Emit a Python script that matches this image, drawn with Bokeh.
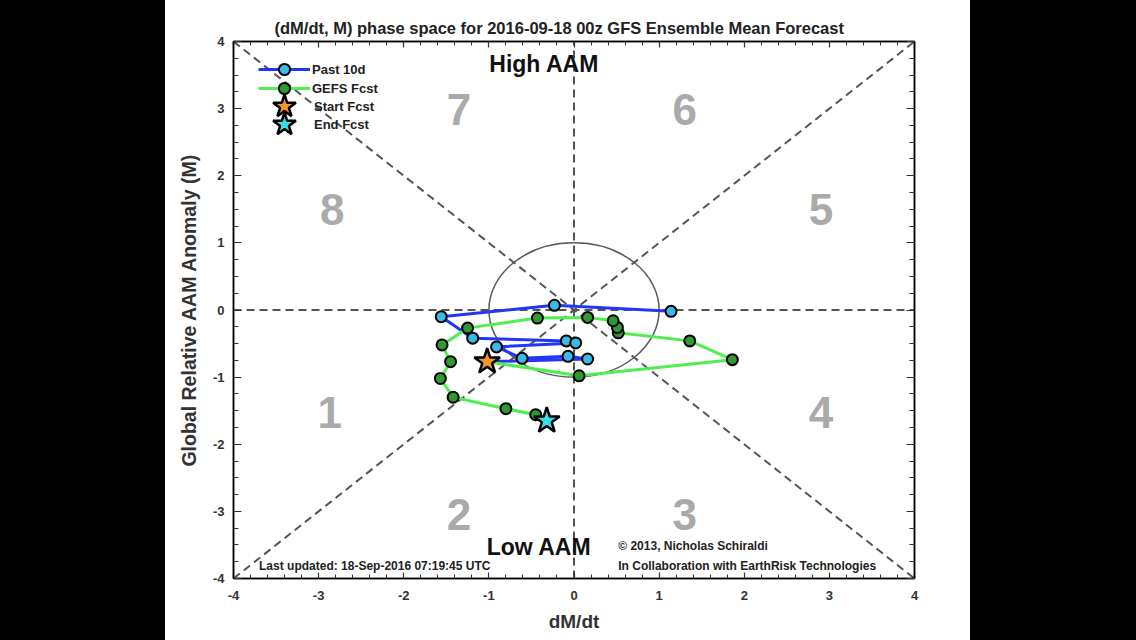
from bokeh.plotting import figure
from bokeh.models import (SingleIntervalTicker, LinearAxis, Legend, LegendItem, Div)
from bokeh.layouts import row
from bokeh.core.properties import value
from bokeh.embed import file_html
from bokeh.resources import INLINE

# ---------------- data ----------------
TITLE = "(dM/dt, M) phase space for 2016-09-18 00z GFS Ensemble Mean Forecast"
X_LABEL = "dM/dt"
Y_LABEL = "Global Relative AAM Anomaly (M)"

# Past 10 days (chronological), ends at the forecast start
past_x = [1.14, -0.23, -1.56, -1.19, -0.09, 0.02, -0.91, -0.61, -0.07, 0.16]
past_y = [-0.02, 0.07, -0.10, -0.42, -0.46, -0.49, -0.55, -0.72, -0.69, -0.73]

start_x = [-1.02]
start_y = [-0.77]
end_x = [-0.32]
end_y = [-1.65]

# GEFS forecast days (between start and end)
fcst_x = [0.06, 1.86, 1.36, 0.52, 0.51, 0.46, 0.16, -0.43, -1.25, -1.55, -1.45, -1.57, -1.42, -0.80, -0.45]
fcst_y = [-0.98, -0.74, -0.46, -0.34, -0.26, -0.16, -0.11, -0.12, -0.27, -0.52, -0.77, -1.02, -1.30, -1.47, -1.56]

phase_labels = ["1", "2", "3", "4", "5", "6", "7", "8"]
phase_x = [-2.87, -1.35, 1.30, 2.90, 2.90, 1.30, -1.35, -2.84]
phase_y = [-1.52, -3.04, -3.04, -1.52, 1.49, 2.98, 2.98, 1.49]

region_labels = ["High AAM", "Low AAM"]
region_x = [-0.35, -0.41]
region_y = [3.66, -3.53]

note_labels = ["\u00a9 2013, Nicholas Schiraldi",
               "Last updated: 18-Sep-2016 07:19:45 UTC",
               "In Collaboration with EarthRisk Technologies"]
note_x = [0.52, -3.70, 0.52]
note_y = [-3.51, -3.82, -3.82]

guide_x0 = [-4, -4, -4, 0]
guide_y0 = [-4, 4, 0, -4]
guide_x1 = [4, 4, 4, 0]
guide_y1 = [4, -4, 0, 4]

circle_x = [0]
circle_y = [0]
circle_d = [2]

axis_min, axis_max = -4, 4
tick_values = [-4, -3, -2, -1, 0, 1, 2, 3, 4]
tick_labels = ["-4", "-3", "-2", "-1", "0", "1", "2", "3", "4"]
legend_labels = ["Past 10d", "GEFS Fcst", "Start Fcst", "End Fcst"]

FONT = "Liberation Sans"

# ---------------- figure ----------------
p = figure(width=805, height=640, x_range=(axis_min, axis_max), y_range=(axis_min, axis_max),
           output_backend="svg", toolbar_location=None,
           min_border_left=68, min_border_right=56, min_border_top=41, min_border_bottom=62,
           background_fill_color="white", border_fill_color="white")
p.grid.visible = False
p.outline_line_color = "black"
p.outline_line_width = 1.5

p.title.text = TITLE
p.title.align = "left"
p.title.offset = 41
p.title.text_font = FONT
p.title.text_font_size = "16.5px"
p.title.text_font_style = "bold"
p.title.text_color = "#222222"
p.title.standoff = 9

overrides = {v: s for v, s in zip(tick_values, tick_labels)}

def style_axis(ax, major_len, minor_len, show_labels):
    ax.axis_line_color = "black"
    ax.axis_line_width = 1.5
    ax.major_tick_in = major_len
    ax.major_tick_out = 0
    ax.minor_tick_in = minor_len
    ax.minor_tick_out = 0
    ax.major_tick_line_color = "#333333"
    ax.minor_tick_line_color = "#333333"
    ax.major_tick_line_width = 1.2
    ax.minor_tick_line_width = 1.0
    ax.major_label_text_font = FONT
    ax.major_label_text_font_style = "bold"
    if show_labels:
        ax.major_label_text_font_size = "13px"
        ax.major_label_text_color = "#333333"
        ax.major_label_overrides = overrides
    else:
        ax.major_label_text_font_size = "1px"
        ax.major_label_text_color = None
        ax.major_label_standoff = 0

xb = p.xaxis[0]
xb.ticker = SingleIntervalTicker(interval=1, num_minor_ticks=5)
style_axis(xb, 6, 4, True)
xb.major_label_standoff = 12
xb.axis_label = X_LABEL
xb.axis_label_text_font = FONT
xb.axis_label_text_font_size = "19px"
xb.axis_label_text_font_style = "bold"
xb.axis_label_text_color = "#333333"
xb.axis_label_standoff = 8

yl = p.yaxis[0]
yl.ticker = SingleIntervalTicker(interval=1, num_minor_ticks=4)
style_axis(yl, 8, 5, True)
yl.major_label_standoff = 9
yl.axis_label = Y_LABEL
yl.axis_label_text_font = FONT
yl.axis_label_text_font_size = "19.5px"
yl.axis_label_text_font_style = "bold"
yl.axis_label_text_color = "#333333"
yl.axis_label_standoff = 10

xt = LinearAxis(ticker=SingleIntervalTicker(interval=1, num_minor_ticks=5))
style_axis(xt, 6, 4, False)
p.add_layout(xt, "above")
yr = LinearAxis(ticker=SingleIntervalTicker(interval=1, num_minor_ticks=4))
style_axis(yr, 8, 5, False)
p.add_layout(yr, "right")

# guides
p.segment(x0=guide_x0, y0=guide_y0, x1=guide_x1, y1=guide_y1,
          line_color="#555555", line_width=2, line_dash="8 5")
p.ellipse(x=circle_x, y=circle_y, width=circle_d, height=circle_d,
          fill_color=None, line_color="#5a5a5a", line_width=1.5)

# texts
p.text(x=phase_x, y=phase_y, text=phase_labels, text_align="center", text_baseline="middle",
       text_font=value(FONT), text_font_size="44px", text_font_style="bold", text_color="#aaaaaa")
p.text(x=region_x, y=region_y, text=region_labels, text_align="center", text_baseline="middle",
       text_font=value(FONT), text_font_size="23px", text_font_style="bold", text_color="#111111")
p.text(x=note_x, y=note_y, text=note_labels, text_align="left", text_baseline="middle",
       text_font=value(FONT), text_font_size="12px", text_font_style="bold", text_color="#222222")

# series
BLUE = "#2236f8"
BLUE_FILL = "#3cb9e6"
GREEN = "#4df04d"
GREEN_FILL = "#2f9a2f"

past_line_x = past_x + start_x
past_line_y = past_y + start_y
fcst_line_x = start_x + fcst_x + end_x
fcst_line_y = start_y + fcst_y + end_y

r_bl = p.line(past_line_x, past_line_y, line_color=BLUE, line_width=3)
r_gl = p.line(fcst_line_x, fcst_line_y, line_color=GREEN, line_width=3)
r_bm = p.scatter(past_x, past_y, marker="circle", size=11, fill_color=BLUE_FILL,
                 line_color="black", line_width=2)
r_gm = p.scatter(fcst_x, fcst_y, marker="circle", size=11, fill_color=GREEN_FILL,
                 line_color="black", line_width=2)
r_st = p.scatter(start_x, start_y, marker="star", size=27, fill_color="#f0962a",
                 line_color="black", line_width=2.5)
r_en = p.scatter(end_x, end_y, marker="star", size=27, fill_color="#35e0e8",
                 line_color="black", line_width=2.5)

# one legend per entry so each glyph keeps its own size
FRAME_BOTTOM_PAGE = 578
def make_legend(label, renderers, center_y, gw, gh, left, standoff):
    lg = Legend(items=[LegendItem(label=label, renderers=renderers)],
                location=(left, FRAME_BOTTOM_PAGE - center_y - gh / 2))
    lg.padding = 0
    lg.margin = 0
    lg.spacing = 0
    lg.glyph_width = gw
    lg.glyph_height = gh
    lg.label_height = gh
    lg.label_standoff = standoff
    lg.label_text_font = FONT
    lg.label_text_font_size = "13px"
    lg.label_text_font_style = "bold"
    lg.label_text_color = "#222222"
    lg.border_line_color = None
    lg.background_fill_alpha = 0
    p.add_layout(lg, "center")

make_legend(legend_labels[0], [r_bl, r_bm], 69, 52, 28, 25, 2)
make_legend(legend_labels[1], [r_gl, r_gm], 88, 52, 28, 25, 2)
make_legend(legend_labels[2], [r_st], 106, 60, 68, 21, 0)
make_legend(legend_labels[3], [r_en], 124, 60, 68, 21, 0)

def black_bar(w):
    return Div(text="", width=w, height=640, margin=0,
               styles={"background-color": "black", "width": f"{w}px", "height": "640px"})

layout = row(black_bar(165), p, black_bar(166))

open("out.html", "w").write(file_html(layout, INLINE))
